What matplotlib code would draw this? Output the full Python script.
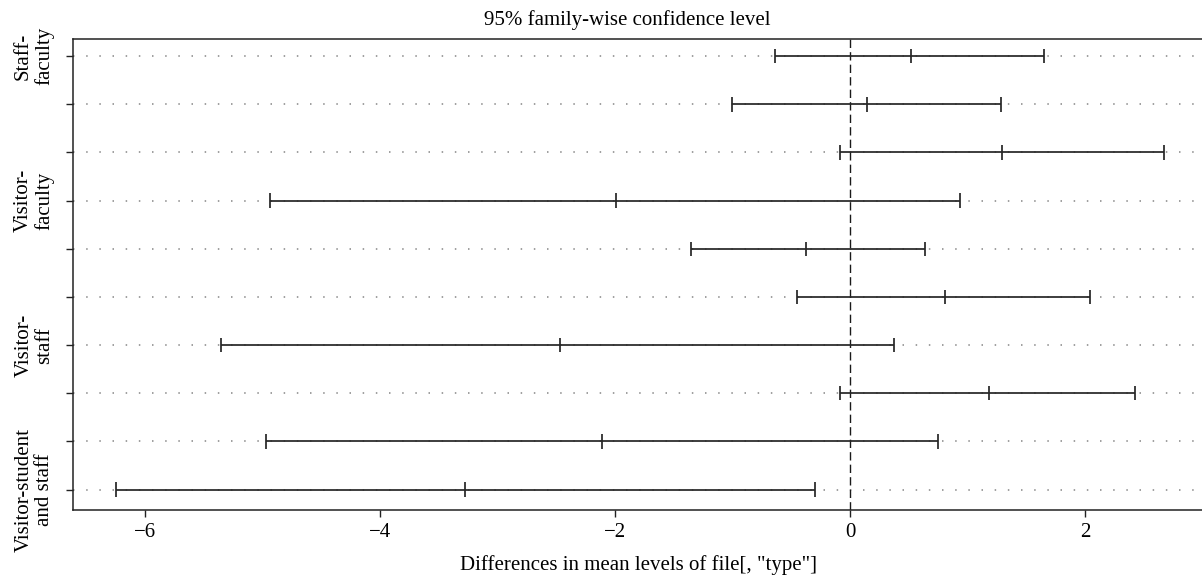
import matplotlib
matplotlib.use("Agg")
import matplotlib.pyplot as plt
import numpy as np

# Tukey HSD comparisons (top to bottom)
tick_labels = ["Staff-\nfaculty", "", "", "Visitor-\nfaculty", "", "",
               "Visitor-\nstaff", "", "", "Visitor-student\nand staff"]
diff = [0.52, 0.145, 1.29, -1.99, -0.372, 0.809, -2.472, 1.183, -2.114, -3.277]
lwr = [-0.634, -1.007, -0.085, -4.94, -1.353, -0.454, -5.35, -0.085, -4.97, -6.244]
upr = [1.65, 1.285, 2.67, 0.934, 0.641, 2.045, 0.377, 2.423, 0.752, -0.30]
x_ticks = [-6, -4, -2, 0, 2]

plt.rcParams['font.family'] = ['Liberation Serif', 'DejaVu Serif']

W, H = 1202, 577
fig = plt.figure(figsize=(W / 100, H / 100), dpi=100)
ax = fig.add_axes([73/W, (H-510.3)/H, 1 - 73/W, (510.3-39.3)/H])

n = len(diff)
yvals = np.arange(n, 0, -1)

# dotted guide lines
for y in yvals:
    ax.axhline(y, color="#8f8f8f", lw=1.2, dashes=(0.9, 7.0), zorder=1)

# zero line
ax.axvline(0, color="#1a1a1a", lw=1.0, dashes=(6.0, 3.0), zorder=2)

seg_color = "#262626"
ax.hlines(yvals, lwr, upr, color=seg_color, lw=1.25, zorder=3)
h = 0.15
for arr in (lwr, diff, upr):
    ax.vlines(arr, yvals - h, yvals + h, color=seg_color, lw=1.25, zorder=3)

ax.set_xlim(-6.613, 2.996)
ax.set_ylim(1 - 0.43, n + 0.35)

ax.set_xticks(x_ticks)
ax.set_xticklabels([f"{t}".replace("-", "\u2212") for t in x_ticks])
ax.set_yticks(yvals)
ax.set_yticklabels(tick_labels, rotation=90, va="center", ha="center",
                   fontsize=15, linespacing=1.1)

ax.tick_params(axis="x", length=5, width=1.0, pad=4.5, labelsize=15, color="#222222")
ax.tick_params(axis="y", length=5, width=1.0, pad=23, color="#222222")

for s in ["left", "top", "bottom"]:
    ax.spines[s].set_linewidth(1.1)
    ax.spines[s].set_color("#222222")
ax.spines["right"].set_visible(False)

fig.text(639 / W, 1 - 570 / H, 'Differences in mean levels of file[, "type"]',
         ha="center", va="baseline", fontsize=15)
fig.text(627.5 / W, 1 - 25 / H, "95% family-wise confidence level",
         ha="center", va="baseline", fontsize=15)

fig.savefig("out.png", dpi=100)
